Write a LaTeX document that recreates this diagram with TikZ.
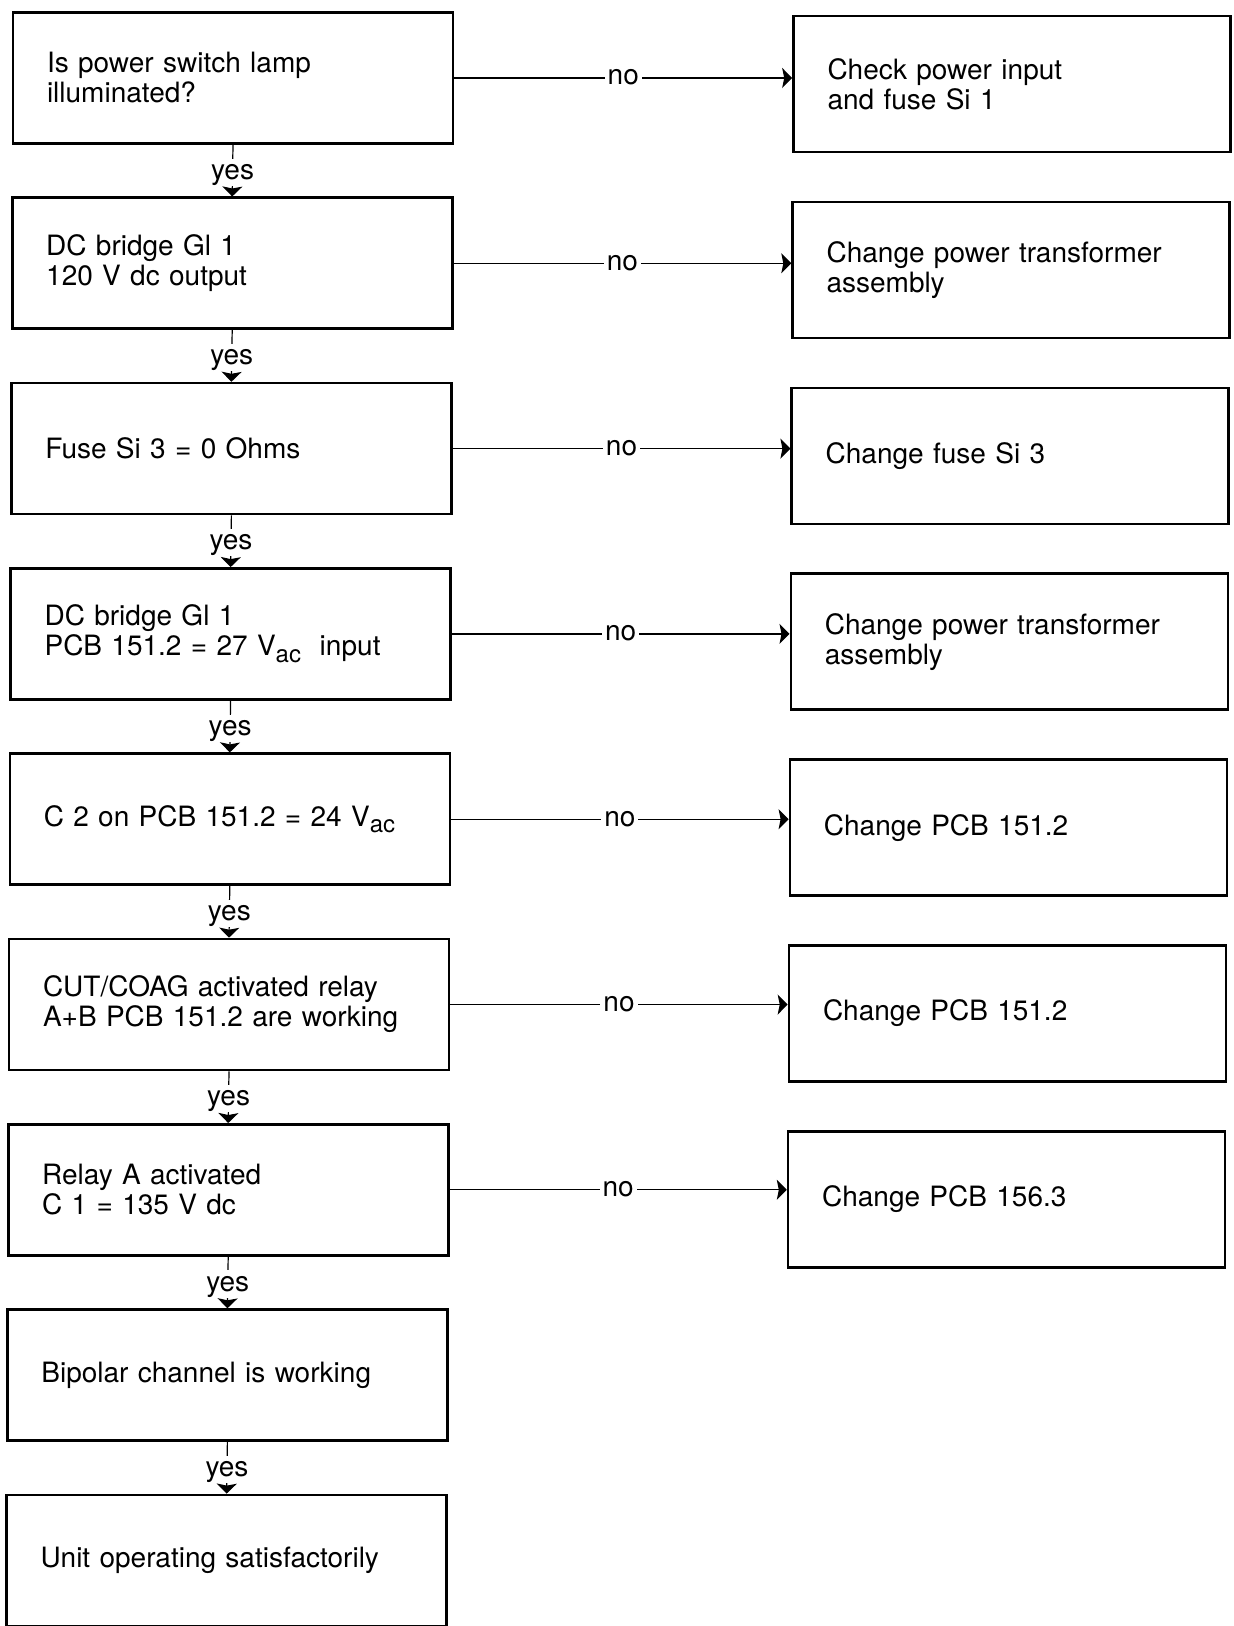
\documentclass[tikz,border=0pt]{standalone}
\usepackage{fontspec}
\setmainfont{TeX Gyre Heros}
\usetikzlibrary{arrows.meta}
\newcommand{\vac}{V\raisebox{-0.45ex}{\fontsize{12}{12}\selectfont ac}}

\begin{document}
\begin{tikzpicture}[x=0.5pt,y=-0.5pt,
  checkbox/.style={draw,line width=1.3pt,rectangle,minimum width=220pt,minimum height=65.5pt,
    inner xsep=17pt,text width=186pt,align=left,font=\fontsize{14}{15}\selectfont},
  fixbox/.style={checkbox,minimum width=218.5pt,minimum height=68pt,text width=184.5pt},
  link/.style={line width=0.6pt,-{Stealth[length=5pt,width=10pt,inset=1pt]}},
  answer/.style={fill=white,inner xsep=1.5pt,inner ysep=0.3pt,text height=10pt,text depth=3pt,
    font=\fontsize{14}{15}\selectfont}]
  \useasboundingbox (0,0) rectangle (1234,1626);

  % Test steps
  \foreach \i/\txt in {0/{Is power switch lamp\\illuminated?},
                       1/{DC bridge Gl 1\\120 V dc output},
                       2/{Fuse Si 3 = 0 Ohms},
                       3/{DC bridge Gl 1\\PCB 151.2 = 27 \vac\ \ input},
                       4/{C 2 on PCB 151.2 = 24 \vac},
                       5/{CUT/COAG activated relay\\A+B PCB 151.2 are working},
                       6/{Relay A activated\\C 1 = 135 V dc},
                       7/{Bipolar channel is working},
                       8/{Unit operating satisfactorily}} {
    \node[checkbox] (t\i) at ({233-0.8*\i},{78+185.3*\i}) {\txt};
  }

  % Repairs
  \foreach \i/\txt in {0/{Check power input\\and fuse Si 1},
                       1/{Change power transformer\\assembly},
                       2/{Change fuse Si 3},
                       3/{Change power transformer\\assembly},
                       4/{Change PCB 151.2},
                       5/{Change PCB 151.2},
                       6/{Change PCB 156.3}} {
    \node[fixbox] (f\i) at ({1012-0.9*\i},{84+185.9*\i}) {\txt};
  }

  % yes branches
  \foreach \i in {0,...,7} {
    \pgfmathtruncatemacro\j{\i+1}
    \draw[link] (t\i.south) -- node[answer,pos=0.53] {yes} (t\j.north);
  }

  % no branches
  \foreach \i in {0,...,6} {
    \draw[link] (t\i.east) -- node[answer] {no} (t\i.east -| f\i.west);
  }
\end{tikzpicture}
\end{document}
